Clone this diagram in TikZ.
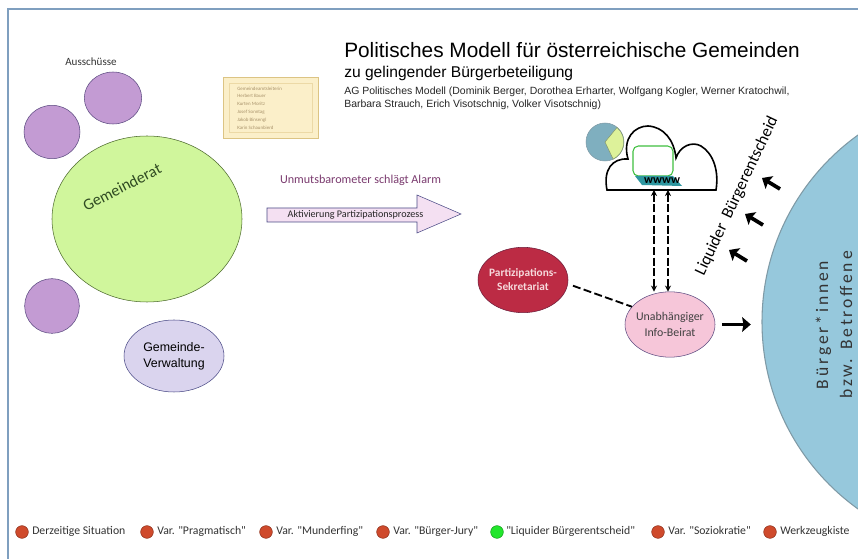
\documentclass[tikz,border=0pt]{standalone}
\usepackage{fontspec}
\setmainfont{Carlito}
\newfontfamily\headfont{Liberation Sans}
\newfontfamily\legfont{Carlito}
\usetikzlibrary{shapes.geometric, arrows.meta}
\definecolor{framecol}{HTML}{7F9FBF}
\definecolor{rat}{HTML}{D0F69C}
\definecolor{ratline}{HTML}{4E6B2E}
\definecolor{rattext}{HTML}{2F4A22}
\definecolor{aus}{HTML}{C39BD3}
\definecolor{ausline}{HTML}{5B4A80}
\definecolor{verw}{HTML}{DAD4EE}
\definecolor{verwline}{HTML}{4A4A86}
\definecolor{note}{HTML}{FBEFC9}
\definecolor{noteline}{HTML}{DCC484}
\definecolor{notetext}{HTML}{A8926A}
\definecolor{pfeil}{HTML}{F4E0F2}
\definecolor{alarm}{HTML}{7A3A6E}
\definecolor{sek}{HTML}{BC2B44}
\definecolor{sekline}{HTML}{6E1F3C}
\definecolor{sektext}{HTML}{F6D9DC}
\definecolor{beirat}{HTML}{F6C6D9}
\definecolor{pie}{HTML}{7FAFBF}
\definecolor{pieb}{HTML}{DDF29A}
\definecolor{teal}{HTML}{2E97A0}
\definecolor{bubble}{HTML}{96C8DC}
\definecolor{bubbleline}{HTML}{7F9AA6}
\definecolor{legred}{HTML}{CF4A2C}
\definecolor{leggreen}{HTML}{22E62C}
\tikzstyle{blob}=[shape=ellipse,inner sep=0,draw,align=center]
\tikzstyle{legdot}=[shape=circle,minimum size=9.5pt,inner sep=0,fill=legred,draw=legred!70!black]
\tikzstyle{legtext}=[anchor=base west,inner sep=0,font=\legfont\fontsize{8.8}{10}\selectfont,text=black!80]
\tikzstyle{dasharrow}=[line width=1.2pt,dash pattern=on 6pt off 2pt,{Stealth[length=4.5pt,width=4.5pt]}-{Stealth[length=4.5pt,width=4.5pt]}]
\tikzstyle{fatarrow}=[line width=2.8pt,-{Stealth[length=6.5pt,width=11pt,inset=1pt]}]
\begin{document}
\begin{tikzpicture}[x=.75pt,y=-.75pt]
\useasboundingbox (0,0) rectangle (858,559);
\fill[white] (0,0) rectangle (858,559);
\draw[framecol,line width=1.5pt] (8,559)--(8,9)--(858,9);
% heading
\node[anchor=west,inner sep=0,font=\headfont\fontsize{15.6}{18}\selectfont] (title) at (344,50) {Politisches Modell für österreichische Gemeinden};
\node[anchor=west,inner sep=0,font=\headfont\fontsize{11.7}{14}\selectfont] (subtitle) at (344,73) {zu gelingender Bürgerbeteiligung};
\node[anchor=north west,inner sep=0,align=left,font=\headfont\fontsize{7.85}{9.8}\selectfont,text=black!85] (ag) at (344,87) {AG Politisches Modell (Dominik Berger, Dorothea Erharter, Wolfgang Kogler, Werner Kratochwil,\\Barbara Strauch, Erich Visotschnig, Volker Visotschnig)};
% left side
\node[blob,fill=rat,draw=ratline,minimum width=142.5pt,minimum height=124.5pt] (rat) at (147,219) {};
\node[rotate=27,inner sep=0,text=rattext,font=\fontsize{12}{15}\selectfont] (ratlabel) at (122,187) {Gemeinderat};
\node[blob,fill=aus,draw=ausline,minimum width=42pt,minimum height=40pt] (aus1) at (52,132) {};
\node[blob,fill=aus,draw=ausline,minimum width=43pt,minimum height=39pt] (aus2) at (113,98) {};
\node[blob,fill=aus,draw=ausline,minimum width=41pt,minimum height=41pt] (aus3) at (52,306) {};
\node[inner sep=0,text=black!80,font=\fontsize{8.3}{10}\selectfont] (auslabel) at (91,61.5) {Ausschüsse};
\node[blob,fill=verw,draw=verwline,minimum width=75pt,minimum height=54pt] (verw) at (174,356) {};
\node[inner sep=0,align=center,font=\headfont\fontsize{9.3}{12}\selectfont] (verwlabel) at (174,356) {Gemeinde-\\Verwaltung};
% note
\node[draw=noteline,fill=note,minimum width=71pt,minimum height=45.5pt,inner sep=0] (notebox) at (270.5,107.5) {};
\node[draw=noteline!50!note,minimum width=62pt,minimum height=37pt,inner sep=0] (noteinner) at (270.5,107.5) {};
\node[anchor=west,inner sep=0,align=left,text=notetext,font=\fontsize{3.7}{5.9}\selectfont] (notetext) at (237,108) {Gemeindeamtsleiterin\\Herbert Bauer\\Kurten Moritz\\Josef Sonntag\\Jakob Binsengl\\Karin Schaunbierd};
% big arrow
\draw[fill=pfeil,draw=verwline] (267,208)--(417,208)--(417,195)--(461,214)--(417,233)--(417,222)--(267,222)--cycle;
\node[inner sep=0,text=black!85,font=\fontsize{7.6}{9}\selectfont] (aktiv) at (355.5,215) {Aktivierung Partizipationsprozess};
\node[inner sep=0,text=alarm,font=\fontsize{9.1}{10}\selectfont] (alarm) at (360.5,180) {Unmutsbarometer schlägt Alarm};
% cloud
\draw[fill=pie,draw=bubbleline] (605,142) circle [radius=19];
\draw[fill=pieb,draw=ratline!70] (605,142)--(617,127.5) arc [start angle=-50,end angle=64,radius=19]--cycle;
\draw[very thick,fill=white] (607,190) .. controls (603,170) and (612,158) .. (628,159)
 .. controls (622,138) and (635,126) .. (648,126) .. controls (664,127) and (674,140) .. (676,158)
 .. controls (680,146) and (692,141) .. (701,146) .. controls (714,154) and (719,172) .. (716,190)--cycle;
\draw[fill=white,draw=green!50!gray,thick,rounded corners=4pt] (633,146) rectangle (673,176);
\fill[teal] (635,176)--(673,176)--(682,186)--(642,185)--cycle;
\node[inner sep=0,font=\bfseries\fontsize{9}{10}\selectfont] (www) at (662,180.5) {wwww};
\coordinate (down) at (654,190);
\coordinate (up) at (668,190);
% right side
\node[blob,fill=sek,draw=sekline,minimum width=67.5pt,minimum height=49pt] (sekretariat) at (523,280) {};
\node[inner sep=0,align=center,text=sektext,font=\bfseries\fontsize{8.5}{10.5}\selectfont] (sekretariatlabel) at (523,280) {Partizipations-\\Sekretariat};
\node[blob,fill=beirat,draw=ausline,minimum width=67.5pt,minimum height=49pt] (infobeirat) at (670,324.5) {};
\node[inner sep=0,align=center,text=black!75,font=\fontsize{8.9}{11.5}\selectfont] (infobeiratlabel) at (670,324.5) {Unabhängiger\\Info-Beirat};
\node[shape=circle,fill=bubble,draw=bubbleline,thick,minimum size=345pt,inner sep=0] (bubble) at (992,322) {};
\node[rotate=90,inner sep=0,align=center,text=black!80,font=\fontsize{13.2}{18}\selectfont\addfontfeature{LetterSpace=16}] (people) at (834,325) {Bürger*innen\\bzw. Betroffene};
\node[rotate=64.7,inner sep=0,font=\fontsize{12.5}{14}\selectfont] (liquid) at (737,196) {Liquider\ \ Bürgerentscheid};
\coordinate (t1a) at (747,261);
\coordinate (t1b) at (729,250);
\coordinate (t2a) at (763,225);
\coordinate (t2b) at (745,214);
\coordinate (t3a) at (780,189);
\coordinate (t3b) at (762,178);
\draw[fatarrow] (t1a)--(t1b);
\draw[fatarrow] (t2a)--(t2b);
\draw[fatarrow] (t3a)--(t3b);
\draw[dasharrow] (down)--(down |- infobeirat.north);
\draw[dasharrow] (up)--(up |- infobeirat.north);
\draw[line width=1.4pt,dash pattern=on 6pt off 2.5pt,shorten <=4pt] (sekretariat.-5)--(infobeirat.155);
\draw[fatarrow,shorten <=5pt,shorten >=8pt] (infobeirat.east)--(infobeirat.east -| bubble.west);
% legend
\node[legdot] (d1) at (22,532) {};
\node[legtext] (l1) at (32,535) {Derzeitige Situation};
\node[legdot] (d2) at (147,532) {};
\node[legtext] (l2) at (157,535) {Var. "Pragmatisch"};
\node[legdot] (d3) at (266,532) {};
\node[legtext] (l3) at (276,535) {Var. "Munderfing"};
\node[legdot] (d4) at (383,532) {};
\node[legtext] (l4) at (393,535) {Var. "Bürger-Jury"};
\node[legdot,fill=leggreen,draw=leggreen!70!black] (d5) at (497,532) {};
\node[legtext] (l5) at (506,535) {"Liquider Bürgerentscheid"};
\node[legdot] (d6) at (658,532) {};
\node[legtext] (l6) at (668,535) {Var. "Soziokratie"};
\node[legdot] (d7) at (770,532) {};
\node[legtext] (l7) at (780,535) {Werkzeugkiste};
\end{tikzpicture}
\end{document}
